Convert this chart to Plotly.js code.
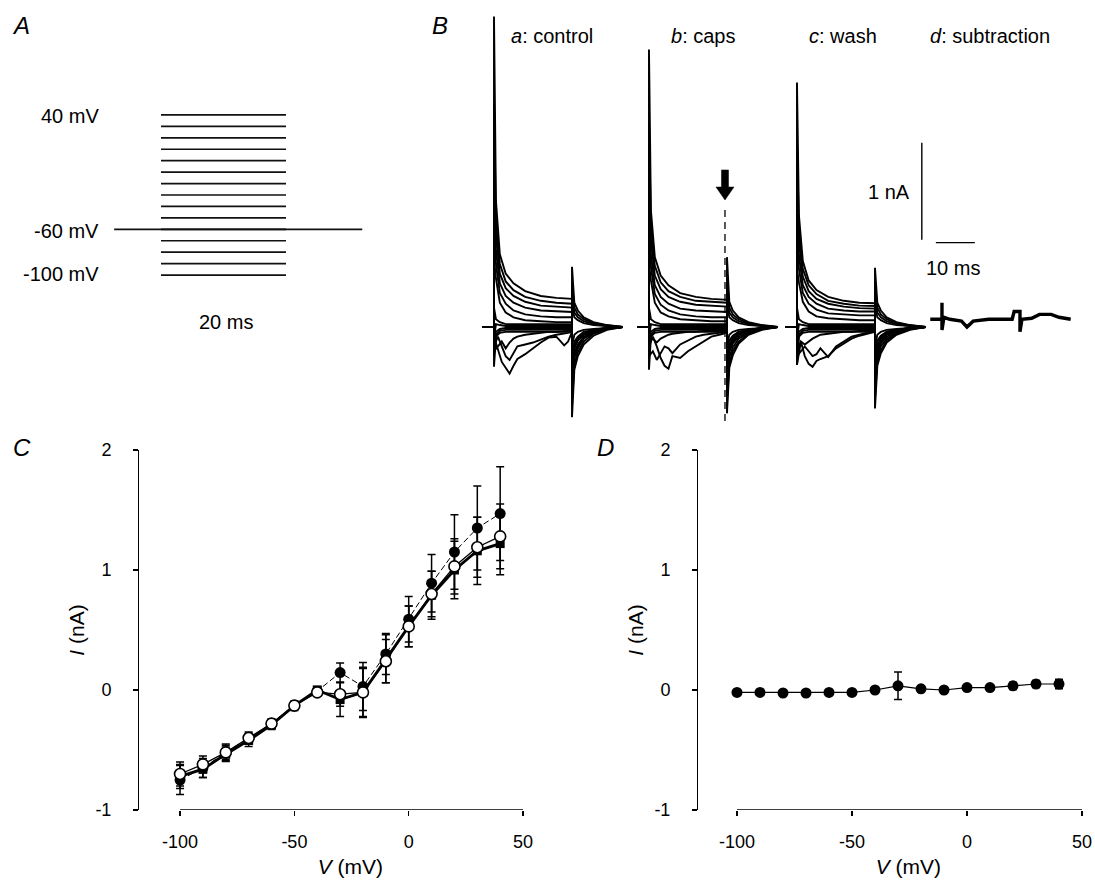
<!DOCTYPE html>
<html>
<head>
<meta charset="utf-8">
<script src="https://cdn.plot.ly/plotly-3.0.1.min.js"></script>
<style>html,body{margin:0;padding:0;background:#fff;}#chart{width:1095px;height:883px;}</style>
</head>
<body>
<div id="chart"></div>
<script>
// ---------------- DATA ----------------
// Panel A: voltage protocol (mV, ms)
const stepLevels = [-100, -90, -80, -70, -60, -50, -40, -30, -20, -10, 0, 10, 20, 30, 40];
const stepTime = [0, 20];
const holdTime = [-7.5, 32.2];
const holdLevel = -60;

// Panel B: current traces (nA) vs time from step onset (ms)
const tOut = [-3, 0, 0, 0.5, 1.5, 3, 5, 8, 12, 16, 20, 20, 20.6, 21.5, 23, 25.5, 29, 33];
const tIn  = [-3, 0, 0, 1, 2, 3, 4, 5, 6, 8, 10, 12, 14, 16, 18, 19, 20, 20, 20.6, 21.5, 23, 25.5, 29, 33];

const controlOutward = [
  [0, 0, 3.20, 1.30, 0.75, 0.55, 0.45, 0.37, 0.32, 0.30, 0.29, -0.93, -0.44, -0.30, -0.18, -0.09, -0.03, 0],
  [0, 0, 2.30, 1.10, 0.65, 0.47, 0.38, 0.31, 0.27, 0.25, 0.24, -0.80, -0.38, -0.26, -0.15, -0.07, -0.02, 0],
  [0, 0, 1.70, 0.95, 0.55, 0.40, 0.32, 0.26, 0.22, 0.21, 0.20, -0.70, -0.32, -0.22, -0.12, -0.06, -0.02, 0],
  [0, 0, 1.30, 0.80, 0.45, 0.32, 0.25, 0.20, 0.17, 0.16, 0.155, -0.60, -0.26, -0.18, -0.10, -0.05, -0.015, 0],
  [0, 0, 1.00, 0.65, 0.35, 0.24, 0.17, 0.13, 0.11, 0.10, 0.10, -0.50, -0.20, -0.13, -0.07, -0.04, -0.01, 0],
  [0, 0, 0.70, 0.50, 0.25, 0.15, 0.10, 0.07, 0.06, 0.05, 0.05, -0.40, -0.15, -0.10, -0.05, -0.03, -0.01, 0]
];
const controlFlat = [
  [0, 0, -0.41, -0.10, -0.06, -0.05, -0.05, -0.05, -0.05, -0.05, -0.05, 0.62, 0.25, 0.17, 0.10, 0.05, 0.02, 0],
  [0, 0, -0.30, -0.08, -0.04, -0.03, -0.03, -0.03, -0.03, -0.03, -0.03, 0.45, 0.20, 0.13, 0.08, 0.04, 0.015, 0],
  [0, 0, -0.20, -0.05, -0.02, -0.01, -0.01, -0.01, -0.01, -0.01, -0.01, 0.35, 0.15, 0.10, 0.06, 0.03, 0.01, 0],
  [0, 0, -0.12, 0.03, 0.02, 0.01, 0.01, 0.01, 0.01, 0.01, 0.01, 0.25, 0.10, 0.07, 0.04, 0.02, 0.01, 0],
  [0, 0, 0.20, 0.08, 0.05, 0.03, 0.03, 0.03, 0.03, 0.03, 0.03, -0.20, -0.08, -0.05, -0.03, -0.02, -0.01, 0]
];
const controlInward = [
  [0, 0, -0.10, -0.22, -0.36, -0.42, -0.48, -0.40, -0.33, -0.28, -0.22, -0.16, -0.11, -0.10, -0.19, -0.15, -0.05, -0.55, -0.30, -0.20, -0.11, -0.05, -0.015, 0],
  [0, 0, -0.20, -0.10, -0.20, -0.30, -0.34, -0.27, -0.20, -0.18, -0.16, -0.13, -0.10, -0.08, -0.07, -0.06, -0.05, -0.45, -0.22, -0.14, -0.08, -0.04, -0.01, 0],
  [0, 0, -0.25, -0.20, -0.15, -0.22, -0.16, -0.12, -0.10, -0.08, -0.07, -0.06, -0.05, -0.05, -0.04, -0.04, -0.04, -0.35, -0.18, -0.12, -0.07, -0.03, -0.01, 0]
];

const capsOutward = [
  [0, 0, 2.86, 1.20, 0.72, 0.53, 0.43, 0.35, 0.31, 0.29, 0.28, -0.89, -0.42, -0.29, -0.17, -0.08, -0.03, 0],
  [0, 0, 2.10, 1.05, 0.63, 0.46, 0.37, 0.31, 0.27, 0.26, 0.25, -0.78, -0.37, -0.25, -0.15, -0.07, -0.02, 0],
  [0, 0, 1.60, 0.90, 0.53, 0.39, 0.31, 0.26, 0.23, 0.22, 0.21, -0.68, -0.31, -0.21, -0.12, -0.06, -0.02, 0],
  [0, 0, 1.20, 0.75, 0.43, 0.31, 0.24, 0.19, 0.17, 0.16, 0.155, -0.58, -0.25, -0.17, -0.10, -0.05, -0.015, 0],
  [0, 0, 0.93, 0.62, 0.34, 0.23, 0.17, 0.13, 0.11, 0.10, 0.10, -0.48, -0.19, -0.13, -0.07, -0.04, -0.01, 0],
  [0, 0, 0.65, 0.48, 0.25, 0.15, 0.11, 0.08, 0.07, 0.06, 0.06, -0.38, -0.14, -0.09, -0.05, -0.03, -0.01, 0]
];
const capsFlat = [
  [0, 0, -0.44, -0.10, -0.06, -0.05, -0.05, -0.05, -0.05, -0.05, -0.05, 0.72, 0.26, 0.17, 0.10, 0.05, 0.02, 0],
  [0, 0, -0.32, -0.08, -0.04, -0.03, -0.03, -0.03, -0.03, -0.03, -0.03, 0.50, 0.20, 0.13, 0.08, 0.04, 0.015, 0],
  [0, 0, -0.20, -0.05, -0.02, -0.01, -0.01, -0.01, -0.01, -0.01, -0.01, 0.38, 0.15, 0.10, 0.06, 0.03, 0.01, 0],
  [0, 0, -0.12, 0.03, 0.02, 0.01, 0.01, 0.01, 0.01, 0.01, 0.01, 0.26, 0.10, 0.07, 0.04, 0.02, 0.01, 0],
  [0, 0, 0.20, 0.08, 0.05, 0.03, 0.03, 0.03, 0.03, 0.03, 0.03, -0.20, -0.08, -0.05, -0.03, -0.02, -0.01, 0]
];
const capsInward = [
  [0, 0, -0.20, -0.10, -0.20, -0.32, -0.40, -0.43, -0.30, -0.32, -0.25, -0.20, -0.15, -0.10, -0.08, -0.07, -0.05, -0.50, -0.25, -0.15, -0.08, -0.04, -0.01, 0],
  [0, 0, -0.30, -0.25, -0.34, -0.27, -0.20, -0.22, -0.27, -0.18, -0.14, -0.10, -0.08, -0.07, -0.06, -0.05, -0.05, -0.40, -0.20, -0.12, -0.07, -0.03, -0.01, 0],
  [0, 0, -0.15, -0.12, -0.16, -0.12, -0.10, -0.08, -0.07, -0.06, -0.05, -0.05, -0.04, -0.04, -0.04, -0.04, -0.04, -0.30, -0.15, -0.10, -0.05, -0.03, -0.01, 0]
];

const washOutward = [
  [0, 0, 2.52, 1.15, 0.68, 0.48, 0.38, 0.31, 0.27, 0.25, 0.245, -0.84, -0.40, -0.27, -0.16, -0.08, -0.03, 0],
  [0, 0, 1.90, 1.00, 0.60, 0.43, 0.34, 0.27, 0.24, 0.22, 0.216, -0.74, -0.35, -0.24, -0.14, -0.07, -0.02, 0],
  [0, 0, 1.50, 0.88, 0.52, 0.37, 0.29, 0.24, 0.21, 0.195, 0.19, -0.65, -0.30, -0.20, -0.12, -0.06, -0.02, 0],
  [0, 0, 1.15, 0.74, 0.43, 0.31, 0.24, 0.19, 0.17, 0.16, 0.16, -0.56, -0.25, -0.17, -0.10, -0.05, -0.015, 0],
  [0, 0, 0.90, 0.60, 0.35, 0.24, 0.18, 0.14, 0.13, 0.12, 0.12, -0.47, -0.19, -0.13, -0.07, -0.04, -0.01, 0],
  [0, 0, 0.60, 0.46, 0.26, 0.16, 0.11, 0.09, 0.08, 0.07, 0.07, -0.37, -0.14, -0.09, -0.05, -0.03, -0.01, 0]
];
const washFlat = [
  [0, 0, -0.39, -0.10, -0.06, -0.05, -0.05, -0.05, -0.05, -0.05, -0.05, 0.61, 0.25, 0.17, 0.10, 0.05, 0.02, 0],
  [0, 0, -0.29, -0.08, -0.04, -0.03, -0.03, -0.03, -0.03, -0.03, -0.03, 0.45, 0.20, 0.13, 0.08, 0.04, 0.015, 0],
  [0, 0, -0.19, -0.05, -0.02, -0.01, -0.01, -0.01, -0.01, -0.01, -0.01, 0.34, 0.15, 0.10, 0.06, 0.03, 0.01, 0],
  [0, 0, -0.12, 0.03, 0.02, 0.01, 0.01, 0.01, 0.01, 0.01, 0.01, 0.24, 0.10, 0.07, 0.04, 0.02, 0.01, 0],
  [0, 0, 0.20, 0.08, 0.05, 0.03, 0.03, 0.03, 0.03, 0.03, 0.03, -0.20, -0.08, -0.05, -0.03, -0.02, -0.01, 0]
];
const washInward = [
  [0, 0, -0.25, -0.15, -0.30, -0.38, -0.41, -0.35, -0.33, -0.30, -0.22, -0.17, -0.12, -0.09, -0.07, -0.06, -0.05, -0.50, -0.25, -0.15, -0.08, -0.04, -0.01, 0],
  [0, 0, -0.30, -0.25, -0.20, -0.25, -0.30, -0.28, -0.22, -0.31, -0.20, -0.15, -0.10, -0.08, -0.06, -0.05, -0.05, -0.40, -0.20, -0.12, -0.07, -0.03, -0.01, 0],
  [0, 0, -0.39, -0.15, -0.18, -0.15, -0.12, -0.10, -0.08, -0.07, -0.06, -0.05, -0.05, -0.04, -0.04, -0.04, -0.04, -0.30, -0.15, -0.10, -0.05, -0.03, -0.01, 0]
];

const subT = [-3, 0, 0, 0, 0.5, 2, 5, 6.4, 8, 12, 18, 18.5, 20, 20, 20.5, 23, 25, 28, 30, 33];
const subI = [0.08, 0.08, 0.25, -0.03, 0.10, 0.08, 0.06, 0.00, 0.06, 0.08, 0.08, 0.16, 0.16, -0.05, 0.08, 0.09, 0.13, 0.13, 0.10, 0.08];

const scaleCurrent = 1;   // nA
const scaleTime = 10;     // ms

// Panels C and D: I-V relations
const voltage = [-100, -90, -80, -70, -60, -50, -40, -30, -20, -10, 0, 10, 20, 30, 40];
const ivControl = [-0.72, -0.66, -0.535, -0.42, -0.29, -0.13, 0.00, -0.08, -0.02, 0.26, 0.53, 0.79, 1.00, 1.16, 1.22];
const ivControlErr = [0.10, 0.07, 0.06, 0.05, 0.04, 0.03, 0.03, 0.14, 0.20, 0.20, 0.17, 0.20, 0.24, 0.28, 0.26];
const ivCaps = [-0.75, -0.65, -0.52, -0.40, -0.28, -0.13, -0.01, 0.145, 0.03, 0.30, 0.59, 0.89, 1.15, 1.35, 1.47];
const ivCapsErr = [0.12, 0.08, 0.07, 0.05, 0.04, 0.04, 0.03, 0.08, 0.20, 0.17, 0.19, 0.24, 0.31, 0.35, 0.39];
const ivWash = [-0.70, -0.62, -0.52, -0.40, -0.28, -0.13, -0.02, -0.035, -0.02, 0.24, 0.53, 0.80, 1.03, 1.19, 1.28];
const ivWashErr = [0.10, 0.07, 0.06, 0.04, 0.03, 0.03, 0.03, 0.10, 0.21, 0.18, 0.17, 0.19, 0.23, 0.25, 0.27];
const ivSub = [-0.02, -0.02, -0.025, -0.025, -0.02, -0.02, 0.00, 0.035, 0.01, 0.00, 0.02, 0.02, 0.035, 0.05, 0.05];
const ivSubErr = [0.02, 0.02, 0.02, 0.02, 0.02, 0.02, 0.02, 0.115, 0.02, 0.02, 0.02, 0.02, 0.03, 0.03, 0.04];

const xTicks = [-100, -50, 0, 50];
const xTickText = ['-100', '-50', '0', '50'];
const yTicks = [-1, 0, 1, 2];
const yTickText = ['-1', '0', '1', '2'];

// ---------------- LAYOUT HELPERS ----------------
const W = 1095, H = 883;
const PX = v => v / W;
const PY = v => 1 - v / H;
const FONT = 'Liberation Sans, Arial, Helvetica, sans-serif';

// time offsets of the four trace groups in panel B (ms on a shared time axis)
const offCtrl = 0, offCaps = 39.74, offWash = 77.69, offSub = 114.87;

function joinTraces(groups, off) {
  const x = [], y = [];
  groups.forEach(([t, rows]) => {
    rows.forEach(r => {
      t.forEach((tv, i) => { x.push(tv + off); y.push(r[i]); });
      x.push(null); y.push(null);
    });
  });
  return {x, y};
}

const traces = [];

// Panel A protocol
(function () {
  const x = [], y = [];
  stepLevels.forEach(v => { x.push(stepTime[0], stepTime[1], null); y.push(v, v, null); });
  x.push(holdTime[0], holdTime[1]); y.push(holdLevel, holdLevel);
  traces.push({x, y, xaxis: 'x3', yaxis: 'y3', mode: 'lines', line: {color: '#111', width: 1.7}, hoverinfo: 'skip'});
})();

// Panel B traces
[[offCtrl, controlOutward, controlFlat, controlInward],
 [offCaps, capsOutward, capsFlat, capsInward],
 [offWash, washOutward, washFlat, washInward]].forEach(([off, o, f, i]) => {
  const d = joinTraces([[tOut, o], [tOut, f], [tIn, i]], off);
  traces.push({x: d.x, y: d.y, xaxis: 'x4', yaxis: 'y4', mode: 'lines', line: {color: '#000', width: 1.9}, connectgaps: false, hoverinfo: 'skip'});
});
traces.push({x: subT.map(t => t + offSub), y: subI, xaxis: 'x4', yaxis: 'y4', mode: 'lines', line: {color: '#000', width: 3.4}, hoverinfo: 'skip'});

// Panel C
const eb = (arr) => ({type: 'data', array: arr, visible: true, color: '#000', thickness: 1.5, width: 4});
traces.push({x: voltage, y: ivControl, error_y: eb(ivControlErr), mode: 'lines+markers', xaxis: 'x', yaxis: 'y',
  line: {color: '#000', width: 2.8}, marker: {symbol: 'square', size: 9, color: '#000'}, cliponaxis: false, name: 'control'});
traces.push({x: voltage, y: ivCaps, error_y: eb(ivCapsErr), mode: 'lines+markers', xaxis: 'x', yaxis: 'y',
  line: {color: '#000', width: 1, dash: '6px,3px'}, marker: {symbol: 'circle', size: 11, color: '#000'}, cliponaxis: false, name: 'caps'});
traces.push({x: voltage, y: ivWash, error_y: eb(ivWashErr), mode: 'lines+markers', xaxis: 'x', yaxis: 'y',
  line: {color: '#000', width: 1.3}, marker: {symbol: 'circle', size: 11, color: '#fff', line: {color: '#000', width: 1.6}}, cliponaxis: false, name: 'wash'});

// Panel D
traces.push({x: voltage, y: ivSub, error_y: eb(ivSubErr), mode: 'lines+markers', xaxis: 'x2', yaxis: 'y2',
  line: {color: '#000', width: 1.2}, marker: {symbol: 'circle', size: 11, color: '#000'}, cliponaxis: false, name: 'subtraction'});

// ---------------- AXES ----------------
const ivYDomain = [PY(810), PY(450)];
function ivX(dom, anchor) {
  return {domain: dom, anchor: anchor, range: [-104, 53], tickvals: xTicks, ticktext: xTickText,
    ticks: 'outside', ticklen: 5, tickwidth: 1.3, tickcolor: '#000', showline: false, zeroline: false, showgrid: false,
    ticklabelstandoff: 10, tickfont: {family: FONT, size: 18, color: '#000'}, automargin: false,
    title: {text: '<i>V</i> (mV)', font: {family: FONT, size: 21, color: '#000'}, standoff: 8}};
}
function ivY(pos) {
  return {domain: ivYDomain, anchor: 'free', position: pos, range: [-1, 2], tickvals: yTicks, ticktext: yTickText,
    ticks: 'outside', ticklen: 5, tickwidth: 1.3, tickcolor: '#000', showline: true, linewidth: 1.3, linecolor: '#000',
    zeroline: false, showgrid: false, ticklabelstandoff: 18, tickfont: {family: FONT, size: 18, color: '#000'}, automargin: false,
    title: {text: '<i>I</i> (nA)', font: {family: FONT, size: 21, color: '#000'}, standoff: 3}};
}
const hidden = (dom, range, anchor) => ({domain: dom, range: range, anchor: anchor, visible: false, showgrid: false, zeroline: false, fixedrange: true});

const layout = {
  width: W, height: H, margin: {l: 0, r: 0, t: 0, b: 0}, paper_bgcolor: '#fff', plot_bgcolor: 'rgba(0,0,0,0)',
  showlegend: false, font: {family: FONT, color: '#000'},
  xaxis: ivX([PX(170.9), PX(529.9)], 'y'),
  yaxis: ivY(PX(138)),
  xaxis2: ivX([PX(727.8), PX(1088.9)], 'y2'),
  yaxis2: ivY(PX(697)),
  xaxis3: hidden([PX(100), PX(380)], [-9.76, 35.04], 'y3'),
  yaxis3: hidden([PY(290), PY(100)], [-113.04, 53.04], 'x3'),
  xaxis4: hidden([PX(470), PX(1080)], [-6.15, 150.26], 'y4'),
  yaxis4: hidden([PY(440), PY(10)], [-1.165, 3.268], 'x4'),
  shapes: [
    // range-frame x axis lines for C and D
    {type: 'line', xref: 'x', yref: 'y', x0: -100, x1: 50, y0: -1, y1: -1, line: {color: '#000', width: 1.3}},
    {type: 'line', xref: 'x2', yref: 'y2', x0: -100, x1: 50, y0: -1, y1: -1, line: {color: '#000', width: 1.3}},
    // scale bars in B
    {type: 'line', xref: 'x4', yref: 'y4', x0: 109.7, x1: 109.7, y0: 0.9, y1: 0.9 + scaleCurrent, line: {color: '#000', width: 1.4}},
    {type: 'line', xref: 'x4', yref: 'y4', x0: 113.3, x1: 113.3 + scaleTime, y0: 0.87, y1: 0.87, line: {color: '#000', width: 1.4}},
    // dashed marker line and arrow on the caps traces
    {type: 'line', xref: 'x4', yref: 'y4', x0: 59.23, x1: 59.23, y0: 1.206, y1: -1.01, line: {color: '#000', width: 1.3, dash: '7px,5px'}},
    {type: 'path', xref: 'x4', yref: 'y4', path: 'M 58.33 1.619 L 60.13 1.619 L 60.13 1.443 L 61.54 1.443 L 59.23 1.309 L 56.92 1.443 L 58.33 1.443 Z',
      fillcolor: '#000', line: {color: '#000', width: 0.5}}
  ],
  annotations: []
};

function ann(text, x, y, size, opts) {
  layout.annotations.push(Object.assign({text: text, x: PX(x), y: PY(y), xref: 'paper', yref: 'paper', showarrow: false,
    font: {family: FONT, size: size, color: '#000'}, xanchor: 'center', yanchor: 'middle'}, opts || {}));
}
// panel letters
ann('<i>A</i>', 21, 26, 24);
ann('<i>B</i>', 440, 26, 24);
ann('<i>C</i>', 22, 448, 24);
ann('<i>D</i>', 605, 448, 24);
// panel A labels
ann('40 mV', 101, 116, 20, {xanchor: 'right'});
ann('-60 mV', 101, 231, 20, {xanchor: 'right'});
ann('-100 mV', 101, 274, 20, {xanchor: 'right'});
ann('20 ms', 226, 322, 20);
// panel B labels
ann('<i>a</i>: control', 552, 36, 20);
ann('<i>b</i>: caps', 703, 36, 20);
ann('<i>c</i>: wash', 843, 36, 20);
ann('<i>d</i>: subtraction', 990, 36, 20);
ann('1 nA', 912, 192, 20, {xanchor: 'right'});
ann('10 ms', 953, 268, 20);

Plotly.newPlot('chart', traces, layout, {staticPlot: true, displayModeBar: false});
</script>
</body>
</html>
